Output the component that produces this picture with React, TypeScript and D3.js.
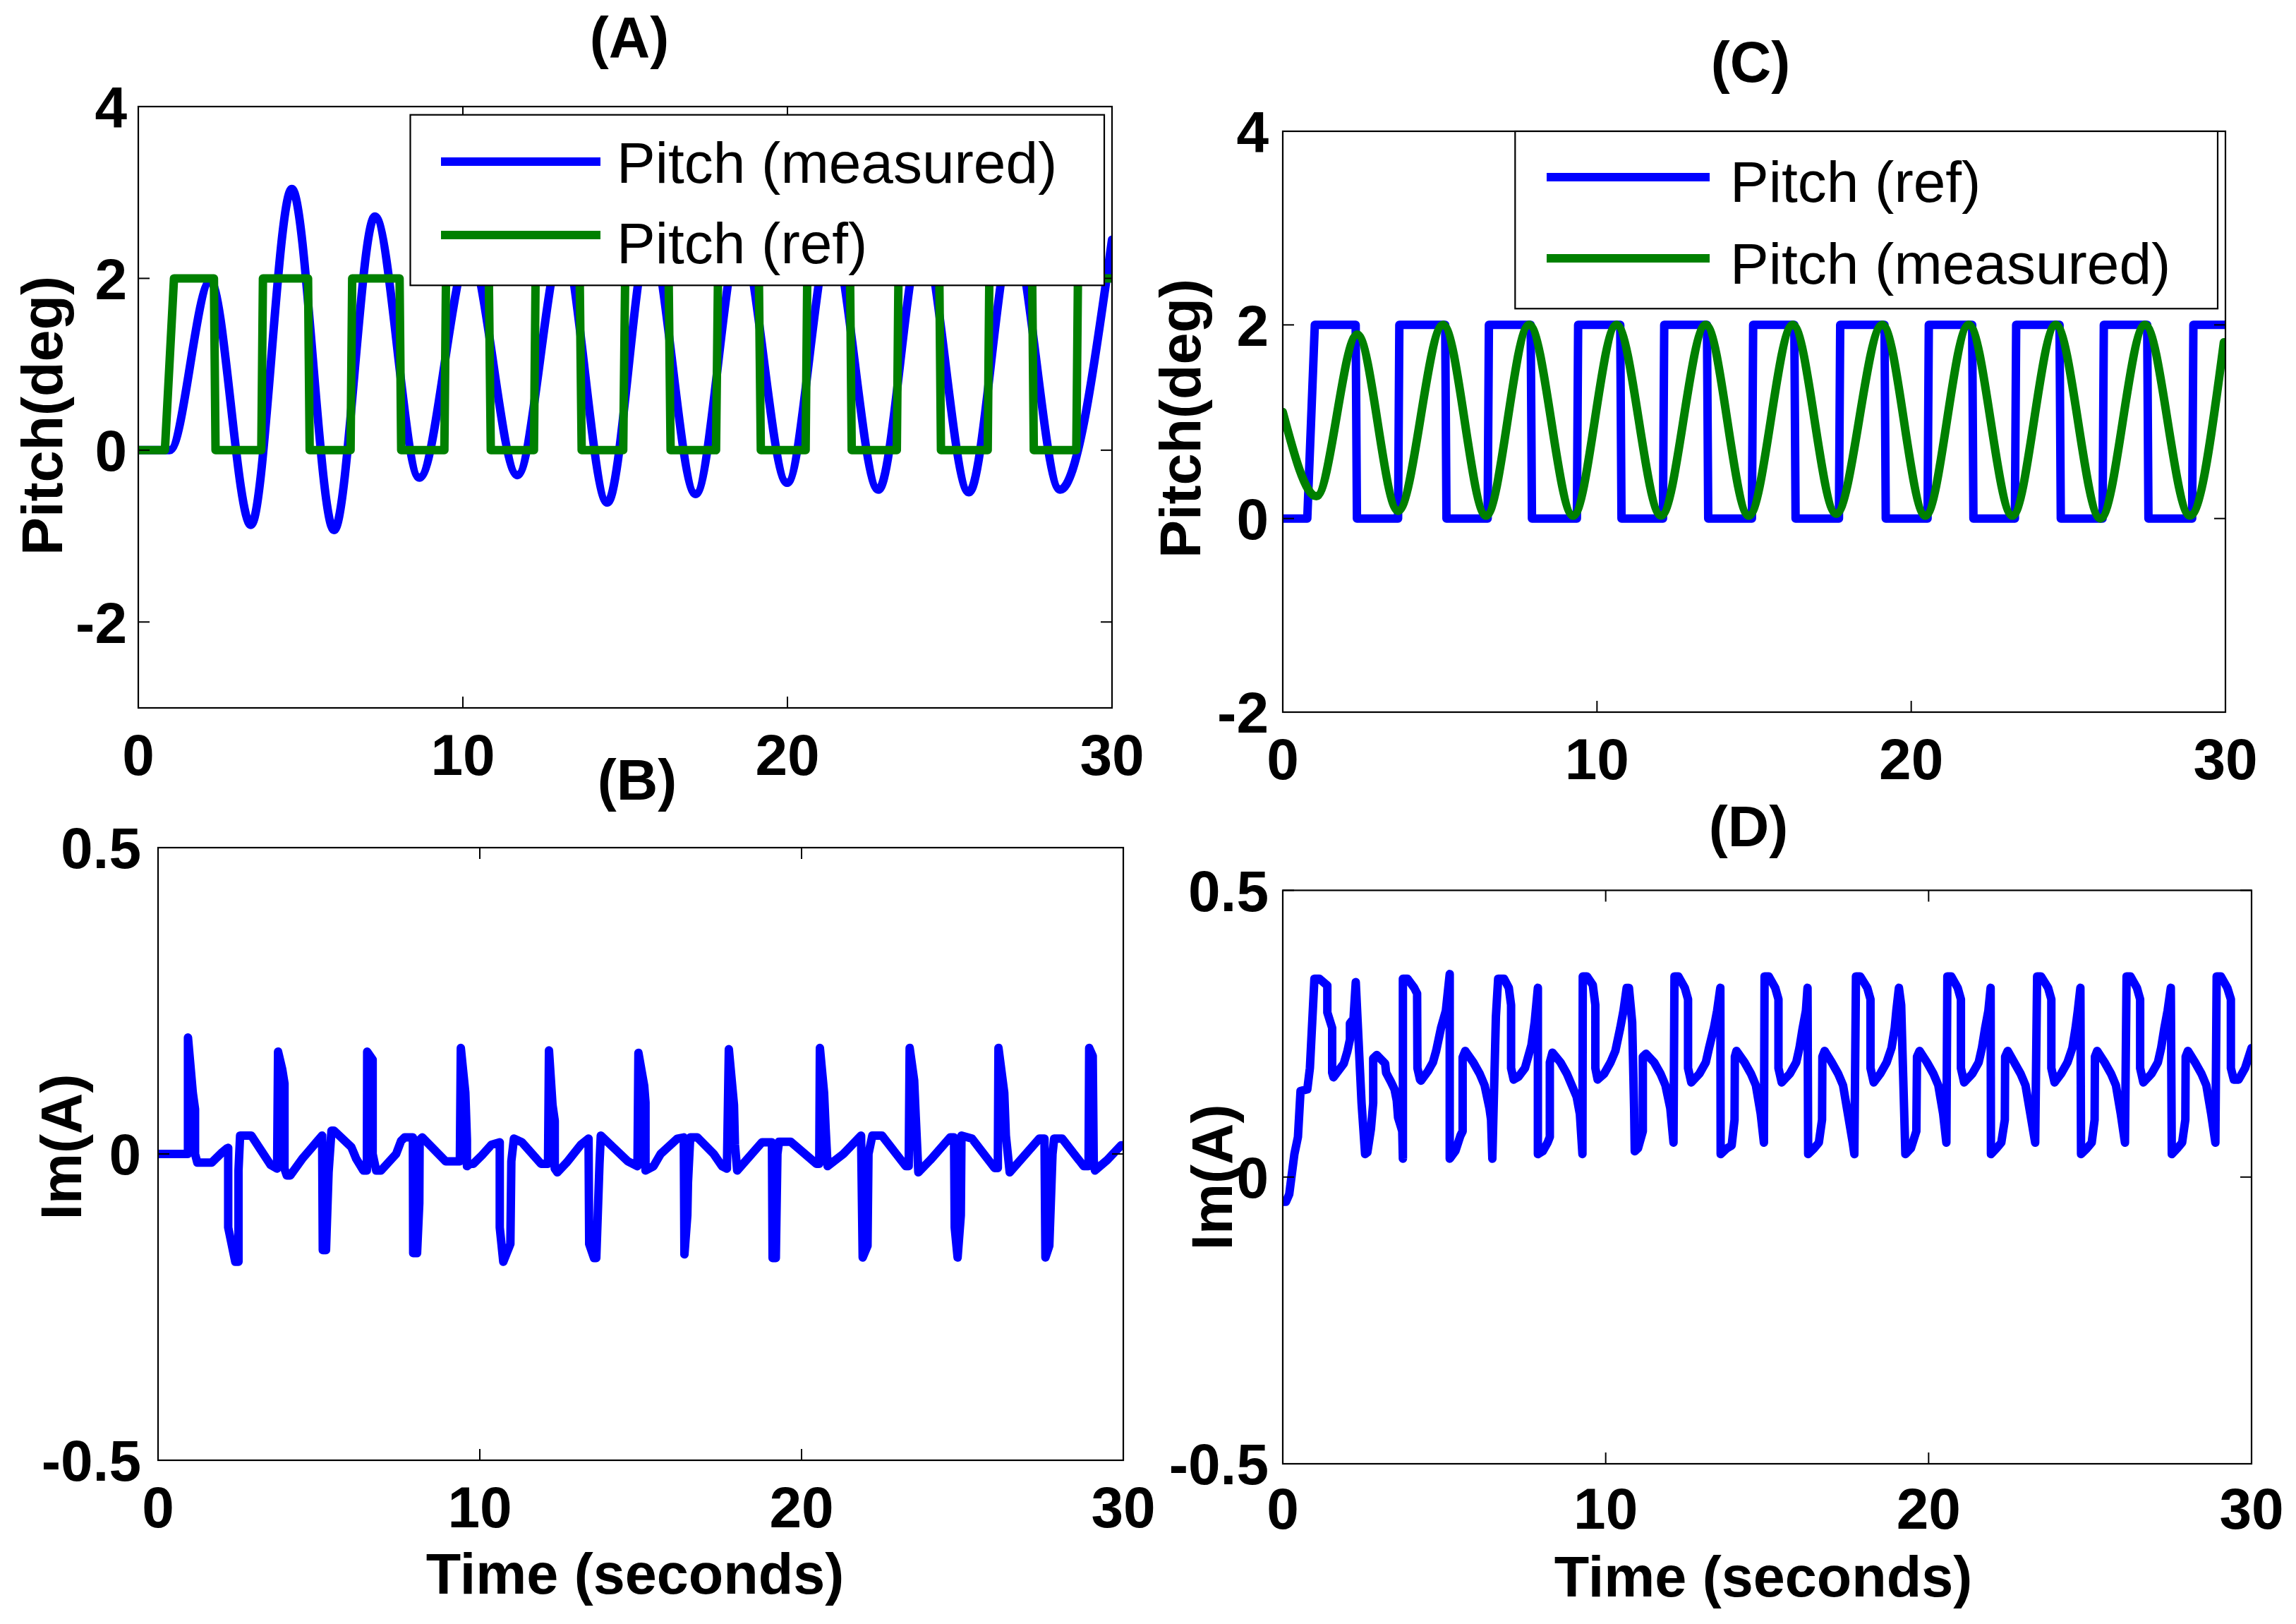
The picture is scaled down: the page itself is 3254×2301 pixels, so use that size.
import React from 'react';
import * as d3 from 'd3';

type Pt = [number, number];

const W = 3254;
const H = 2301;
const BLUE = '#0000ff';
const GREEN = '#008000';
const FONT = '"Liberation Sans", Arial, Helvetica, sans-serif';

// ---------------- data ----------------
const timeTicks = [0, 10, 20, 30];
const timeTickLabels = ['0', '10', '20', '30'];
const pitchTicks = [-2, 0, 2, 4];
const pitchTickLabels = ['-2', '0', '2', '4'];
const currentTicks = [-0.5, 0, 0.5];
const currentTickLabels = ['-0.5', '0', '0.5'];

// (A) pitch reference (square wave, deg)
const pitchRefA: Pt[] = [
  [0, 0], [0.82, 0], [1.1, 2], [2.33, 2], [2.38, 0], [3.79, 0], [3.84, 2], [5.23, 2], [5.28, 0],
  [6.54, 0], [6.59, 2], [8.05, 2], [8.1, 0], [9.43, 0], [9.48, 2], [10.8, 2], [10.86, 0],
  [12.19, 0], [12.24, 2], [13.6, 2], [13.66, 0], [14.94, 0], [15.0, 2], [16.34, 2], [16.4, 0],
  [17.8, 0], [17.86, 2], [19.12, 2], [19.18, 0], [20.56, 0], [20.61, 2], [21.93, 2], [21.98, 0],
  [23.37, 0], [23.42, 2], [24.68, 2], [24.73, 0], [26.17, 0], [26.22, 2], [27.54, 2], [27.59, 0],
  [28.9, 0], [28.95, 2], [30, 2],
];
// (A) pitch measured: extremes of the oscillation
const pitchMeasA: Pt[] = [
  [0, 0], [0.97, 0], [2.22, 1.97], [3.47, -0.87], [4.73, 3.04], [6.03, -0.93], [7.29, 2.72],
  [8.66, -0.32], [10.2, 2.3], [11.68, -0.29], [13.08, 2.4], [14.45, -0.61], [15.75, 2.5],
  [17.17, -0.51], [18.55, 2.5], [19.99, -0.38], [21.35, 2.5], [22.8, -0.46], [24.15, 2.5],
  [25.59, -0.49], [26.95, 2.5], [28.4, -0.46], [30, 2.45],
];

// (C) pitch reference
const pitchRefC: Pt[] = [
  [0, 0], [0.78, 0], [1.02, 2], [2.32, 2], [2.36, 0], [3.67, 0], [3.71, 2], [5.17, 2], [5.21, 0],
  [6.52, 0], [6.56, 2], [7.89, 2], [7.93, 0], [9.36, 0], [9.4, 2], [10.74, 2], [10.78, 0],
  [12.1, 0], [12.14, 2], [13.5, 2], [13.54, 0], [14.93, 0], [14.97, 2], [16.28, 2], [16.32, 0],
  [17.7, 0], [17.74, 2], [19.15, 2], [19.19, 0], [20.52, 0], [20.56, 2], [21.94, 2], [21.98, 0],
  [23.3, 0], [23.34, 2], [24.72, 2], [24.76, 0], [26.09, 0], [26.13, 2], [27.51, 2], [27.55, 0],
  [28.94, 0], [28.98, 2], [30, 2],
];
// (C) pitch measured: extremes of the oscillation
const pitchMeasC: Pt[] = [
  [0, 1.1], [1.07, 0.23], [2.37, 1.9], [3.67, 0.08], [5.1, 2.0], [6.47, 0.03], [7.84, 2.0],
  [9.24, 0.03], [10.62, 2.0], [12.04, 0.03], [13.46, 2.0], [14.83, 0.03], [16.23, 2.0],
  [17.61, 0.05], [19.08, 2.0], [20.45, 0.03], [21.83, 2.0], [23.22, 0.03], [24.6, 2.0],
  [26.02, 0.0], [27.44, 2.0], [28.87, 0.03], [29.95, 1.82],
];

// (B) motor current (A)
const currentB: Pt[] = [
  [0, 0], [0.93, 0], [0.93, 0.19], [1.08, 0.1], [1.15, 0.073], [1.15, 0], [1.22, -0.014], [1.67, -0.014],
  [2.0, 0.003], [2.14, 0.009], [2.18, 0.01], [2.18, -0.12], [2.4, -0.176], [2.5, -0.176], [2.5, -0.027],
  [2.55, 0.03], [2.9, 0.03], [3.5, -0.018], [3.7, -0.024],
  [3.73, 0.167], [3.86, 0.138], [3.93, 0.115], [3.93, -0.024], [4.0, -0.035], [4.11, -0.035],
  [4.48, -0.008], [4.66, 0.003], [4.92, 0.019], [5.1, 0.03],
  [5.12, -0.157], [5.22, -0.157], [5.3, -0.03], [5.39, 0.038], [5.47, 0.038], [6.01, 0.011],
  [6.16, -0.008], [6.38, -0.027], [6.49, -0.027],
  [6.5, 0.167], [6.67, 0.154], [6.67, 0.0], [6.78, -0.027], [6.93, -0.027], [7.4, 0.0], [7.55, 0.021],
  [7.66, 0.027], [7.92, 0.027],
  [7.93, -0.162], [8.05, -0.162], [8.12, -0.08], [8.13, 0.023], [8.21, 0.027], [8.79, -0.004],
  [8.94, -0.012], [9.38, -0.012],
  [9.41, 0.173], [9.55, 0.1], [9.6, 0.023], [9.6, -0.02], [9.7, -0.016], [9.8, -0.016], [10.07, -0.002],
  [10.36, 0.015], [10.62, 0.019],
  [10.62, -0.12], [10.73, -0.176], [10.95, -0.147], [10.98, -0.012], [11.06, 0.025], [11.31, 0.019],
  [11.9, -0.016], [12.12, -0.016],
  [12.15, 0.169], [12.26, 0.08], [12.33, 0.054], [12.33, -0.024], [12.41, -0.03], [12.7, -0.014],
  [13.14, 0.015], [13.38, 0.025],
  [13.4, -0.147], [13.55, -0.17], [13.62, -0.17], [13.72, -0.016], [13.76, 0.03], [14.6, -0.012],
  [14.9, -0.02],
  [14.93, 0.165], [15.11, 0.111], [15.15, 0.084], [15.15, -0.027], [15.4, -0.02], [15.62, 0],
  [16.14, 0.025], [16.34, 0.027],
  [16.36, -0.164], [16.45, -0.1], [16.47, -0.047], [16.54, 0.027], [16.76, 0.027], [17.27, 0.0],
  [17.53, -0.02], [17.68, -0.024],
  [17.74, 0.171], [17.9, 0.08], [17.93, 0.015], [18.0, -0.027], [18.77, 0.019], [19.08, 0.019],
  [19.1, -0.17], [19.2, -0.17], [19.25, 0.0], [19.3, 0.02], [19.66, 0.02], [20.46, -0.016], [20.55, -0.016],
  [20.57, 0.173], [20.7, 0.1], [20.75, 0.04], [20.81, -0.02], [21.3, 0.0], [21.85, 0.03],
  [21.9, -0.169], [22.05, -0.15], [22.08, 0.0], [22.2, 0.03], [22.5, 0.03], [23.24, -0.02], [23.33, -0.02],
  [23.36, 0.173], [23.5, 0.12], [23.55, 0.06], [23.63, -0.03], [24.0, -0.01], [24.62, 0.027], [24.74, 0.027],
  [24.76, -0.12], [24.85, -0.169], [24.95, -0.1], [24.97, 0.03], [25.3, 0.025], [26.0, -0.023], [26.1, -0.023],
  [26.12, 0.173], [26.3, 0.1], [26.35, 0.03], [26.47, -0.03], [27.39, 0.025], [27.55, 0.025],
  [27.58, -0.169], [27.7, -0.15], [27.8, 0.0], [27.85, 0.025], [28.1, 0.025], [28.77, -0.02], [28.92, -0.02],
  [28.94, 0.173], [29.05, 0.16], [29.08, -0.01], [29.12, -0.027], [29.5, -0.01], [29.93, 0.014], [30, 0.014],
];

// (D) motor current (A)
const currentD: Pt[] = [
  [0, -0.043], [0.1, -0.043], [0.2, -0.03], [0.36, 0.04], [0.47, 0.07], [0.55, 0.15], [0.76, 0.153],
  [0.84, 0.19], [0.98, 0.346], [1.13, 0.346], [1.38, 0.334], [1.38, 0.287], [1.53, 0.26], [1.53, 0.182],
  [1.57, 0.174], [1.89, 0.198], [2.0, 0.219], [2.08, 0.24], [2.08, 0.268], [2.19, 0.276], [2.26, 0.34],
  [2.44, 0.129], [2.55, 0.04], [2.62, 0.043], [2.73, 0.084], [2.8, 0.129], [2.8, 0.207], [2.91, 0.213],
  [3.17, 0.198], [3.2, 0.182], [3.35, 0.166], [3.46, 0.153], [3.53, 0.133], [3.57, 0.104], [3.7, 0.08],
  [3.72, 0.032],
  [3.72, 0.346], [3.86, 0.346], [4.07, 0.33], [4.16, 0.32], [4.17, 0.19], [4.25, 0.17], [4.28, 0.168],
  [4.5, 0.185], [4.65, 0.2], [4.75, 0.22], [4.9, 0.26], [5.05, 0.29], [5.17, 0.354],
  [5.17, 0.032], [5.35, 0.046], [5.5, 0.072], [5.57, 0.08], [5.57, 0.209], [5.65, 0.22], [5.9, 0.2],
  [6.1, 0.18], [6.25, 0.16], [6.4, 0.12], [6.45, 0.1], [6.49, 0.032],
  [6.6, 0.28], [6.67, 0.346], [6.85, 0.346], [7.0, 0.33], [7.07, 0.3], [7.07, 0.19], [7.15, 0.17],
  [7.3, 0.175], [7.5, 0.19], [7.6, 0.21], [7.7, 0.23], [7.8, 0.27], [7.9, 0.33],
  [7.9, 0.04], [8.05, 0.045], [8.2, 0.06], [8.27, 0.07], [8.27, 0.2], [8.35, 0.217], [8.6, 0.2],
  [8.8, 0.18], [8.95, 0.16], [9.1, 0.14], [9.2, 0.11], [9.28, 0.04],
  [9.29, 0.35], [9.42, 0.35], [9.6, 0.335], [9.68, 0.3], [9.68, 0.19], [9.75, 0.17], [9.95, 0.18],
  [10.15, 0.2], [10.3, 0.22], [10.45, 0.26], [10.55, 0.29], [10.65, 0.33],
  [10.72, 0.33], [10.82, 0.27], [10.88, 0.12], [10.9, 0.045], [11.0, 0.05], [11.15, 0.08], [11.15, 0.21],
  [11.25, 0.215], [11.5, 0.2], [11.7, 0.18], [11.85, 0.16], [12.0, 0.12], [12.1, 0.06],
  [12.13, 0.35], [12.25, 0.35], [12.45, 0.33], [12.55, 0.31], [12.55, 0.19], [12.65, 0.165], [12.9, 0.18],
  [13.1, 0.2], [13.2, 0.225], [13.35, 0.26], [13.45, 0.29], [13.55, 0.33],
  [13.56, 0.04], [13.75, 0.05], [13.9, 0.055], [13.99, 0.1], [14.0, 0.21], [14.05, 0.22], [14.3, 0.2],
  [14.5, 0.18], [14.65, 0.16], [14.8, 0.11], [14.9, 0.06],
  [14.92, 0.35], [15.05, 0.35], [15.25, 0.33], [15.35, 0.31], [15.35, 0.19], [15.45, 0.165], [15.7, 0.18],
  [15.9, 0.2], [16.0, 0.225], [16.1, 0.26], [16.2, 0.29], [16.25, 0.33],
  [16.27, 0.04], [16.45, 0.05], [16.6, 0.06], [16.7, 0.1], [16.71, 0.21], [16.78, 0.22], [17.0, 0.2],
  [17.2, 0.18], [17.35, 0.16], [17.5, 0.11], [17.65, 0.06],
  [17.7, 0.04], [17.75, 0.35], [17.88, 0.35], [18.1, 0.33], [18.2, 0.31], [18.2, 0.19], [18.3, 0.165],
  [18.5, 0.18], [18.7, 0.2], [18.85, 0.225], [18.95, 0.26], [19.0, 0.29], [19.08, 0.33],
  [19.15, 0.3], [19.25, 0.1], [19.28, 0.04], [19.45, 0.05], [19.62, 0.08], [19.64, 0.21], [19.72, 0.22],
  [19.95, 0.2], [20.15, 0.18], [20.3, 0.16], [20.45, 0.11], [20.55, 0.06],
  [20.58, 0.35], [20.7, 0.35], [20.9, 0.33], [21.0, 0.31], [21.0, 0.19], [21.1, 0.165], [21.35, 0.18],
  [21.55, 0.2], [21.65, 0.225], [21.75, 0.26], [21.85, 0.29], [21.92, 0.33],
  [21.93, 0.04], [22.1, 0.05], [22.25, 0.06], [22.36, 0.1], [22.37, 0.21], [22.45, 0.22], [22.65, 0.2],
  [22.85, 0.18], [23.0, 0.16], [23.15, 0.11], [23.3, 0.06],
  [23.36, 0.35], [23.48, 0.35], [23.7, 0.33], [23.8, 0.31], [23.8, 0.19], [23.9, 0.165], [24.1, 0.18],
  [24.3, 0.2], [24.45, 0.225], [24.55, 0.26], [24.62, 0.29], [24.7, 0.33],
  [24.72, 0.04], [24.9, 0.05], [25.05, 0.06], [25.14, 0.1], [25.15, 0.21], [25.22, 0.22], [25.45, 0.2],
  [25.65, 0.18], [25.8, 0.16], [25.95, 0.11], [26.08, 0.06],
  [26.13, 0.35], [26.25, 0.35], [26.45, 0.33], [26.55, 0.31], [26.55, 0.19], [26.65, 0.165], [26.9, 0.18],
  [27.1, 0.2], [27.2, 0.225], [27.3, 0.26], [27.4, 0.29], [27.5, 0.33],
  [27.53, 0.04], [27.7, 0.05], [27.85, 0.06], [27.95, 0.1], [27.96, 0.21], [28.03, 0.22], [28.25, 0.2],
  [28.45, 0.18], [28.6, 0.16], [28.75, 0.11], [28.88, 0.06],
  [28.92, 0.35], [29.05, 0.35], [29.25, 0.33], [29.36, 0.31], [29.36, 0.19], [29.45, 0.17], [29.6, 0.17],
  [29.8, 0.19], [30, 0.225],
];

// ---------------- drawing ----------------
interface Series { data: Pt[]; color: string; smooth?: boolean; }
interface LegendItem { label: string; color: string; y: number; textY: number; }
interface LegendSpec { x0: number; x1: number; y0: number; y1: number; lx0: number; lx1: number; tx: number; items: LegendItem[]; }
interface PanelSpec {
  id: string;
  x0: number; x1: number; y0: number; y1: number;
  yDomain: [number, number]; yTicks: number[]; yTickLabels: string[];
  yTickRight: number; xTickBaseline: number;
  series: Series[];
  title: string; titleX: number; titleY: number;
  yLabel: string; yLabelX: number; yLabelY: number;
  xLabel?: string; xLabelX?: number; xLabelY?: number;
  legend?: LegendSpec;
}

const TICK_FS = 82;
const LABEL_FS = 81;
const TICK_LEN = 16;
const LINE_W = 12;

function Panel({ p }: { p: PanelSpec }) {
  const xs = d3.scaleLinear().domain([0, 30]).range([p.x0, p.x1]);
  const ys = d3.scaleLinear().domain(p.yDomain).range([p.y1, p.y0]);
  const clipId = `clip-${p.id}`;
  return (
    <g>
      <defs>
        <clipPath id={clipId}>
          <rect x={p.x0} y={p.y0} width={p.x1 - p.x0} height={p.y1 - p.y0} />
        </clipPath>
      </defs>
      <g clipPath={`url(#${clipId})`}>
        {p.series.map((s, i) => {
          const gen = d3.line<Pt>().x(d => xs(d[0])).y(d => ys(d[1]))
            .curve(s.smooth ? d3.curveMonotoneX : d3.curveLinear);
          return (
            <path key={i} d={gen(s.data) || ''} fill="none" stroke={s.color} strokeWidth={LINE_W}
              strokeLinejoin="round" strokeLinecap="round" />
          );
        })}
      </g>
      {timeTicks.map((t, i) => (
        <g key={`xt${i}`}>
          <line x1={xs(t)} x2={xs(t)} y1={p.y1} y2={p.y1 - TICK_LEN} stroke="#000" strokeWidth={2} />
          <line x1={xs(t)} x2={xs(t)} y1={p.y0} y2={p.y0 + TICK_LEN} stroke="#000" strokeWidth={2} />
          <text x={xs(t)} y={p.xTickBaseline} textAnchor="middle" fontFamily={FONT} fontWeight="bold"
            fontSize={TICK_FS}>{timeTickLabels[i]}</text>
        </g>
      ))}
      {p.yTicks.map((v, i) => (
        <g key={`yt${i}`}>
          <line x1={p.x0} x2={p.x0 + TICK_LEN} y1={ys(v)} y2={ys(v)} stroke="#000" strokeWidth={2} />
          <line x1={p.x1} x2={p.x1 - TICK_LEN} y1={ys(v)} y2={ys(v)} stroke="#000" strokeWidth={2} />
          <text x={p.yTickRight} y={ys(v) + TICK_FS * 0.358} textAnchor="end" fontFamily={FONT}
            fontWeight="bold" fontSize={TICK_FS}>{p.yTickLabels[i]}</text>
        </g>
      ))}
      <rect x={p.x0} y={p.y0} width={p.x1 - p.x0} height={p.y1 - p.y0} fill="none" stroke="#000" strokeWidth={2.2} />
      {p.legend && (
        <g>
          <rect x={p.legend.x0} y={p.legend.y0} width={p.legend.x1 - p.legend.x0}
            height={p.legend.y1 - p.legend.y0} fill="#fff" stroke="#000" strokeWidth={2.2} />
          {p.legend.items.map((it, i) => (
            <g key={i}>
              <line x1={p.legend!.lx0} x2={p.legend!.lx1} y1={it.y} y2={it.y} stroke={it.color} strokeWidth={12} />
              <text x={p.legend!.tx} y={it.textY} fontFamily={FONT} fontSize={82}>{it.label}</text>
            </g>
          ))}
        </g>
      )}
      <text x={p.titleX} y={p.titleY} textAnchor="middle" fontFamily={FONT} fontWeight="bold"
        fontSize={LABEL_FS}>{p.title}</text>
      <text transform={`translate(${p.yLabelX},${p.yLabelY}) rotate(-90)`} textAnchor="middle"
        fontFamily={FONT} fontWeight="bold" fontSize={LABEL_FS}>{p.yLabel}</text>
      {p.xLabel && (
        <text x={p.xLabelX} y={p.xLabelY} textAnchor="middle" fontFamily={FONT} fontWeight="bold"
          fontSize={LABEL_FS}>{p.xLabel}</text>
      )}
    </g>
  );
}

const panels: PanelSpec[] = [
  {
    id: 'A', x0: 196, x1: 1576, y0: 151, y1: 1003,
    yDomain: [-3, 4], yTicks: pitchTicks, yTickLabels: pitchTickLabels,
    yTickRight: 180, xTickBaseline: 1098,
    series: [
      { data: pitchMeasA, color: BLUE, smooth: true },
      { data: pitchRefA, color: GREEN },
    ],
    title: '(A)', titleX: 892, titleY: 81,
    yLabel: 'Pitch(deg)', yLabelX: 88, yLabelY: 589,
    legend: {
      x0: 581.5, x1: 1565, y0: 162.7, y1: 404.3, lx0: 625, lx1: 851, tx: 874,
      items: [
        { label: 'Pitch (measured)', color: BLUE, y: 229, textY: 259 },
        { label: 'Pitch (ref)', color: GREEN, y: 333, textY: 373 },
      ],
    },
  },
  {
    id: 'C', x0: 1818, x1: 3154, y0: 186, y1: 1009,
    yDomain: [-2, 4], yTicks: pitchTicks, yTickLabels: pitchTickLabels,
    yTickRight: 1798, xTickBaseline: 1104,
    series: [
      { data: pitchRefC, color: BLUE },
      { data: pitchMeasC, color: GREEN, smooth: true },
    ],
    title: '(C)', titleX: 2481, titleY: 116,
    yLabel: 'Pitch(deg)', yLabelX: 1701, yLabelY: 593,
    legend: {
      x0: 2147.3, x1: 3143, y0: 186, y1: 437.3, lx0: 2192, lx1: 2423, tx: 2452,
      items: [
        { label: 'Pitch (ref)', color: BLUE, y: 251, textY: 286 },
        { label: 'Pitch (measured)', color: GREEN, y: 366, textY: 402 },
      ],
    },
  },
  {
    id: 'B', x0: 224, x1: 1592, y0: 1201, y1: 2069,
    yDomain: [-0.5, 0.5], yTicks: currentTicks, yTickLabels: currentTickLabels,
    yTickRight: 200, xTickBaseline: 2164,
    series: [{ data: currentB, color: BLUE }],
    title: '(B)', titleX: 903, titleY: 1133,
    yLabel: 'Im(A)', yLabelX: 115, yLabelY: 1625,
    xLabel: 'Time (seconds)', xLabelX: 900, xLabelY: 2258,
  },
  {
    id: 'D', x0: 1818, x1: 3191, y0: 1261.5, y1: 2074,
    yDomain: [-0.5, 0.5], yTicks: currentTicks, yTickLabels: currentTickLabels,
    yTickRight: 1798, xTickBaseline: 2166,
    series: [{ data: currentD, color: BLUE }],
    title: '(D)', titleX: 2478, titleY: 1199,
    yLabel: 'Im(A)', yLabelX: 1746, yLabelY: 1668,
    xLabel: 'Time (seconds)', xLabelX: 2499, xLabelY: 2262,
  },
];

export default function App() {
  return (
    <svg width={W} height={H} viewBox={`0 0 ${W} ${H}`}
      style={{ position: 'absolute', left: 0, top: 0, background: '#fff' }}>
      <rect x={0} y={0} width={W} height={H} fill="#fff" />
      {panels.map(p => <Panel key={p.id} p={p} />)}
    </svg>
  );
}
